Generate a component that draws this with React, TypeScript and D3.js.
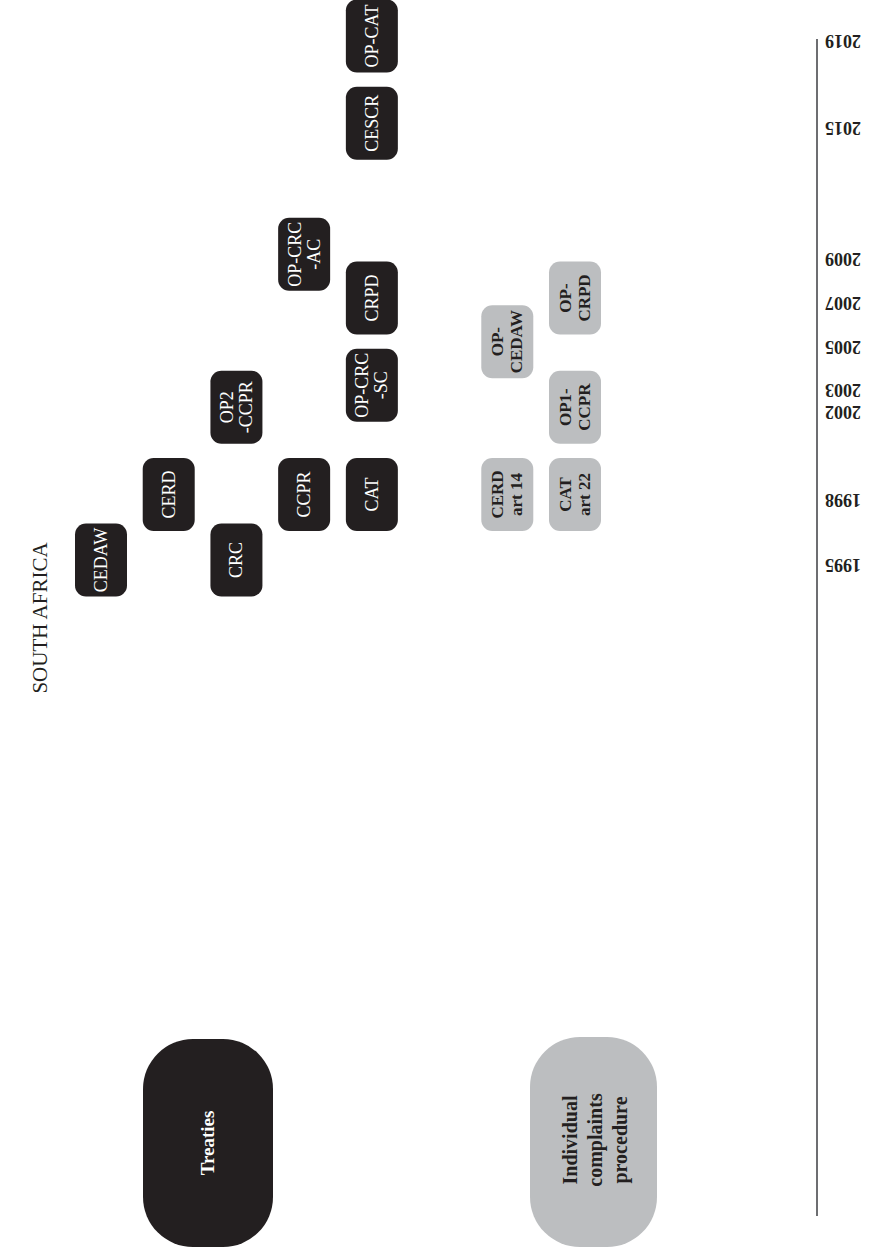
import * as d3 from "d3";

// treaty ratifications (black) and complaint procedures (grey) for South Africa
const treatyNames = ["CEDAW", "CERD", "CRC", "OP2\n-CCPR", "CCPR", "OP-CRC\n-AC", "CAT", "OP-CRC\n-SC", "CRPD", "CESCR", "OP-CAT"];
const treatyYears = [1995, 1998, 1995, 2002, 1998, 2009, 1998, 2003, 2007, 2015, 2019];
const treatyLanes = [0, 1, 2, 2, 3, 3, 4, 4, 4, 4, 4];

const complaintNames = ["CERD\nart 14", "OP-\nCEDAW", "CAT\nart 22", "OP1-\nCCPR", "OP-\nCRPD"];
const complaintYears = [1998, 2005, 1998, 2002, 2007];
const complaintLanes = [6, 6, 7, 7, 7];

const yearTicks = [1995, 1998, 2002, 2003, 2005, 2007, 2009, 2015, 2019];

const W = 874;
const H = 1250;
const BOX_W = 52;
const BOX_H = 73;
const DARK = "#231f20";
const GREY = "#bcbec0";
const SERIF = "'Liberation Serif', 'DejaVu Serif', serif";

export default function App() {
  const y = d3.scaleLinear().domain([1995, 2019]).range([560, 36]);
  const x = d3.scaleLinear().domain([0, 7]).range([75, 549]);

  const treaties = treatyNames.map((name, i) => ({ name, year: treatyYears[i], lane: treatyLanes[i] }));
  const complaints = complaintNames.map((name, i) => ({ name, year: complaintYears[i], lane: complaintLanes[i] }));

  const box = (d: { name: string; year: number; lane: number }, fill: string, color: string, bold: boolean) => {
    const lines = d.name.split("\n");
    const cx = x(d.lane) + BOX_W / 2;
    const cy = y(d.year);
    return (
      <g key={d.name}>
        <rect x={x(d.lane)} y={cy - BOX_H / 2} width={BOX_W} height={BOX_H} rx={11} fill={fill} />
        <g transform={`translate(${cx},${cy}) rotate(-90)`}>
          {lines.map((l, j) => (
            <text key={j} x={0} y={(j - (lines.length - 1) / 2) * 19}
              textAnchor="middle" dominantBaseline="central"
              fill={color} fontSize={bold ? 17 : 18} fontWeight={bold ? "bold" : "normal"}
              fontFamily={SERIF}>{l}</text>
          ))}
        </g>
      </g>
    );
  };

  const legendLines = ["Individual", "complaints", "procedure"];

  return (
    <svg width={W} height={H} style={{ position: "absolute", left: 0, top: 0 }}>
      <rect width={W} height={H} fill="#fff" />
      <text transform="translate(40,618) rotate(-90)" textAnchor="middle" dominantBaseline="central"
        fontFamily={SERIF} fontSize={21} fill={DARK}>SOUTH AFRICA</text>

      {treaties.map(d => box(d, DARK, "#fff", false))}
      {complaints.map(d => box(d, GREY, DARK, true))}

      {/* year axis */}
      <line x1={817} x2={817} y1={39} y2={1216} stroke="#6d6e71" strokeWidth={2} />
      {yearTicks.map(t => (
        <text key={t} transform={`translate(825,${y(t) + 5}) rotate(180)`} textAnchor="end"
          dominantBaseline="central" fontFamily={SERIF} fontWeight="bold" fontSize={18}
          fill={DARK}>{t}</text>
      ))}

      {/* legend */}
      <rect x={143} y={1039} width={130} height={208} rx={50} fill={DARK} />
      <text transform="translate(207,1143) rotate(-90)" textAnchor="middle" dominantBaseline="central"
        fontFamily={SERIF} fontWeight="bold" fontSize={19} fill="#fff">Treaties</text>
      <rect x={530} y={1037} width={127} height={210} rx={50} fill={GREY} />
      <g transform="translate(595,1140) rotate(-90)">
        {legendLines.map((l, j) => (
          <text key={l} x={0} y={(j - 1) * 25} textAnchor="middle" dominantBaseline="central"
            fontFamily={SERIF} fontWeight="bold" fontSize={20} fill={DARK}>{l}</text>
        ))}
      </g>
    </svg>
  );
}
